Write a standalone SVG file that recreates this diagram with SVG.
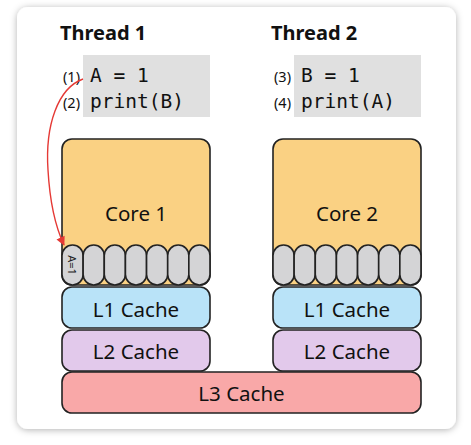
<svg xmlns="http://www.w3.org/2000/svg" width="471" height="445" viewBox="0 0 471 445">
<defs>
<filter id="sh" x="-10%" y="-10%" width="120%" height="120%">
<feDropShadow dx="0" dy="1" stdDeviation="3.5" flood-color="#000" flood-opacity="0.3"/>
</filter>
<marker id="ah" viewBox="0 0 10 10" refX="9" refY="5" markerWidth="10" markerHeight="9" orient="auto-start-reverse" markerUnits="userSpaceOnUse">
<path d="M0,0 L10,5 L0,10 z" fill="#e53935"/>
</marker>
<style>
.box{stroke:#222;stroke-width:1.6}
.core{fill:#fad183}
.reg{fill:#d4d4d6}
.l1{fill:#b9e3f8}
.l2{fill:#e2c9eb}
.l3{fill:#f9a8a8}
.lbl{font-family:"Noto Sans","Open Sans",sans-serif;font-size:20.5px;fill:#111;text-anchor:middle}
.title{font-family:"Noto Sans","Open Sans",sans-serif;font-size:20px;font-weight:bold;fill:#111}
.code{font-family:"DejaVu Sans Mono",monospace;font-size:19.5px;fill:#111}
.num{font-family:"Noto Sans","Open Sans",sans-serif;font-size:14.5px;fill:#111}
.codebg{fill:#e0e0e0}
</style>
</defs>
<rect x="17" y="7" width="439" height="422" rx="11" fill="#fff" filter="url(#sh)"/>
<g id="thread1">
<text class="title" x="60" y="40">Thread 1</text>
<rect class="codebg" x="83" y="55" width="127" height="62"/>
<text class="num" x="63" y="82">(1)</text>
<text class="num" x="63" y="108">(2)</text>
<text class="code" x="90" y="82">A = 1</text>
<text class="code" x="90" y="108">print(B)</text>
</g>
<g id="thread2">
<text class="title" x="271" y="40">Thread 2</text>
<rect class="codebg" x="294" y="55" width="127" height="62"/>
<text class="num" x="274" y="82">(3)</text>
<text class="num" x="274" y="108">(4)</text>
<text class="code" x="301" y="82">B = 1</text>
<text class="code" x="301" y="108">print(A)</text>
</g>
<g id="core1">
<rect class="box core" x="62" y="139" width="148" height="146" rx="10"/>
<text class="lbl" x="136" y="221">Core 1</text>
<rect class="box reg" x="62" y="245" width="21.14" height="40" rx="10.5"/>
<rect class="box reg" x="83.14" y="245" width="21.14" height="40" rx="10.5"/>
<rect class="box reg" x="104.28" y="245" width="21.14" height="40" rx="10.5"/>
<rect class="box reg" x="125.42" y="245" width="21.14" height="40" rx="10.5"/>
<rect class="box reg" x="146.56" y="245" width="21.14" height="40" rx="10.5"/>
<rect class="box reg" x="167.7" y="245" width="21.14" height="40" rx="10.5"/>
<rect class="box reg" x="188.84" y="245" width="21.14" height="40" rx="10.5"/>
<text x="72.5" y="265" transform="rotate(90 72.5 265)" text-anchor="middle" dominant-baseline="central" font-family="Noto Sans, Open Sans, sans-serif" font-size="11" fill="#222">A=1</text>
</g>
<g id="core2">
<rect class="box core" x="273" y="139" width="148" height="146" rx="10"/>
<text class="lbl" x="347" y="221">Core 2</text>
<rect class="box reg" x="273" y="245" width="21.14" height="40" rx="10.5"/>
<rect class="box reg" x="294.14" y="245" width="21.14" height="40" rx="10.5"/>
<rect class="box reg" x="315.28" y="245" width="21.14" height="40" rx="10.5"/>
<rect class="box reg" x="336.42" y="245" width="21.14" height="40" rx="10.5"/>
<rect class="box reg" x="357.56" y="245" width="21.14" height="40" rx="10.5"/>
<rect class="box reg" x="378.7" y="245" width="21.14" height="40" rx="10.5"/>
<rect class="box reg" x="399.84" y="245" width="21.14" height="40" rx="10.5"/>
</g>
<g id="l1a"><rect class="box l1" x="62" y="287" width="148" height="41" rx="10"/><text class="lbl" x="136" y="317">L1 Cache</text></g>
<g id="l1b"><rect class="box l1" x="273" y="287" width="148" height="41" rx="10"/><text class="lbl" x="347" y="317">L1 Cache</text></g>
<g id="l2a"><rect class="box l2" x="62" y="330" width="148" height="41" rx="10"/><text class="lbl" x="136" y="359">L2 Cache</text></g>
<g id="l2b"><rect class="box l2" x="273" y="330" width="148" height="41" rx="10"/><text class="lbl" x="347" y="359">L2 Cache</text></g>
<g id="l3"><rect class="box l3" x="62" y="372" width="359" height="41" rx="10"/><text class="lbl" x="241.5" y="401">L3 Cache</text></g>
<g id="connectors">
<path d="M83,79 C58,88 45,125 48,170 C50,205 56,228 64,245" fill="none" stroke="#e53935" stroke-width="1.4" marker-end="url(#ah)"/>
</g>
</svg>
